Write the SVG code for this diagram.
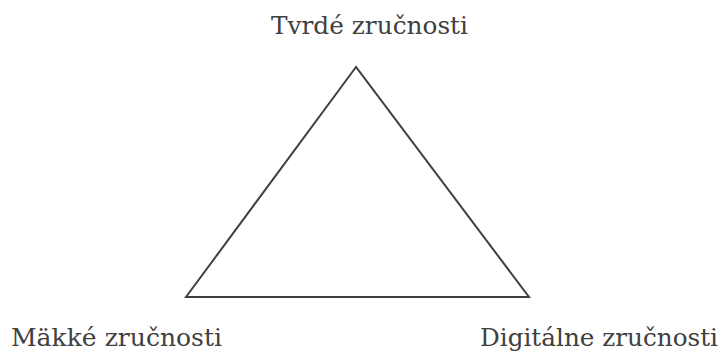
<svg xmlns="http://www.w3.org/2000/svg" width="723" height="353" viewBox="0 0 723 353">
<style>
.lbl{font-family:'DejaVu Serif','Noto Serif',serif;font-size:25px;fill:#404040}
.tri{fill:none;stroke:#404040;stroke-width:2;stroke-linejoin:miter}
</style>
<rect width="723" height="353" fill="#fff"/>
<g id="connectors">
<polygon class="tri" points="356,67 186,297 529,297"/>
</g>
<g id="node-tvrde"><text class="lbl" x="271" y="34" textLength="197" lengthAdjust="spacingAndGlyphs">Tvrdé zručnosti</text></g>
<g id="node-makke"><text class="lbl" x="11" y="346" textLength="211" lengthAdjust="spacingAndGlyphs">Mäkké zručnosti</text></g>
<g id="node-digitalne"><text class="lbl" x="480" y="346" textLength="238" lengthAdjust="spacingAndGlyphs">Digitálne zručnosti</text></g>
</svg>
